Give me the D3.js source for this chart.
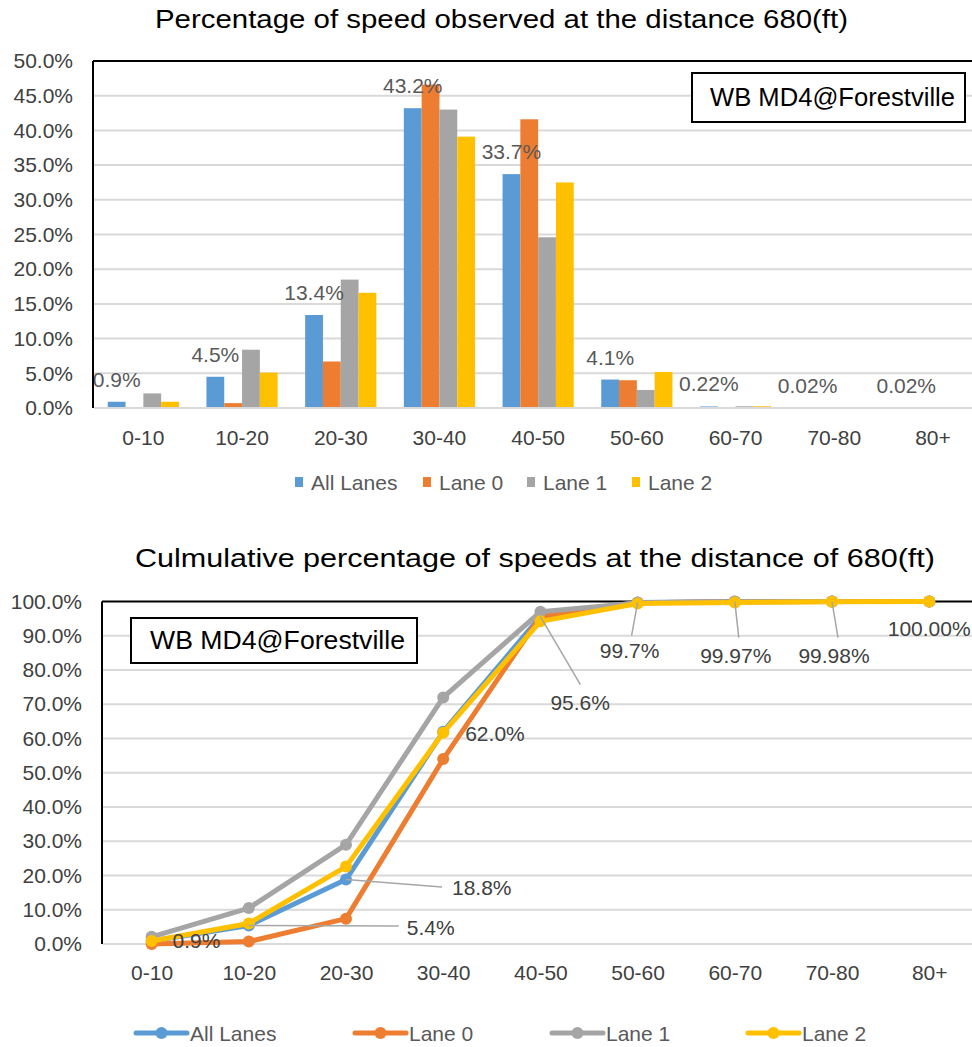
<!DOCTYPE html>
<html>
<head>
<meta charset="utf-8">
<script src="https://cdn.jsdelivr.net/npm/d3@7"></script>
<style>
  html, body { margin: 0; padding: 0; background: #fff; }
  svg { display: block; font-family: "Liberation Sans", Arial, sans-serif; }
</style>
</head>
<body>
<svg id="chart" width="972" height="1047"></svg>
<script>
// ---- data ----
const categories = ["0-10", "10-20", "20-30", "30-40", "40-50", "50-60", "60-70", "70-80", "80+"];
const seriesNames = ["All Lanes", "Lane 0", "Lane 1", "Lane 2"];
const seriesColors = ["#5B9BD5", "#ED7D31", "#A5A5A5", "#FFC000"];

// share of vehicles in each speed bin (%)
const pctAllLanes = [0.9, 4.5, 13.4, 43.2, 33.7, 4.1, 0.22, 0.02, 0.02];
const pctLane0    = [0.0, 0.7, 6.7, 46.6, 41.6, 4.0, 0.1, 0.0, 0.0];
const pctLane1    = [2.1, 8.4, 18.5, 43.0, 24.6, 2.6, 0.25, 0.0, 0.0];
const pctLane2    = [0.9, 5.1, 16.6, 39.1, 32.5, 5.2, 0.25, 0.0, 0.0];
const pctDecimals = [1, 1, 1, 1, 1, 1, 2, 2, 2];

// cumulative share up to each speed bin (%)
const cumAllLanes = [0.9, 5.4, 18.8, 62.0, 95.6, 99.7, 99.97, 99.98, 100.00];
const cumLane0    = [0.0, 0.7, 7.4, 54.0, 95.6, 99.6, 99.9, 100.0, 100.0];
const cumLane1    = [2.1, 10.5, 29.0, 72.0, 97.0, 99.6, 99.9, 100.0, 100.0];
const cumLane2    = [0.9, 6.0, 22.6, 61.7, 94.2, 99.4, 99.7, 99.9, 100.0];
const cumDecimals = [1, 1, 1, 1, 1, 1, 2, 2, 2];

const yTicksTop = [0, 5, 10, 15, 20, 25, 30, 35, 40, 45, 50];
const yTicksBottom = [0, 10, 20, 30, 40, 50, 60, 70, 80, 90, 100];
const siteLabel = "WB MD4@Forestville";

const pctSeries = [pctAllLanes, pctLane0, pctLane1, pctLane2];
const cumSeries = [cumAllLanes, cumLane0, cumLane1, cumLane2];

// ---- shared styling ----
const GRID = "#d9d9d9";
const TICK_TEXT = "#404040";
const LABEL_TEXT = "#595959";
const FS = 21;

const svg = d3.select("#chart");
const fmt = (v, d) => v.toFixed(d) + "%";

// =================== Chart 1: grouped bars ===================
{
  const left = 94, top = 61, bottom = 408, step = 98.7;
  const right = left + step * categories.length;
  const x0 = d3.scaleBand().domain(categories).range([left, right]).padding(0);
  const groupW = 71.2;
  const x1 = d3.scaleBand().domain(seriesNames).range([0, groupW]).padding(0);
  const y = d3.scaleLinear().domain([0, 50]).range([bottom, top]);

  svg.append("text")
    .attr("x", 501.5).attr("y", 28)
    .attr("text-anchor", "middle")
    .attr("font-size", 26)
    .attr("textLength", 693).attr("lengthAdjust", "spacingAndGlyphs")
    .attr("fill", "#000")
    .text("Percentage of speed observed at the distance 680(ft)");

  // gridlines
  svg.append("g").selectAll("line")
    .data(yTicksTop.filter(t => t > 0 && t < 50))
    .join("line")
    .attr("x1", left).attr("x2", right)
    .attr("y1", d => y(d)).attr("y2", d => y(d))
    .attr("stroke", GRID).attr("stroke-width", 2);

  // y axis labels
  const yAxis = d3.axisLeft(y).tickValues(yTicksTop).tickFormat(d => d.toFixed(1) + "%").tickSize(0).tickPadding(0);
  const gy = svg.append("g").attr("transform", "translate(73,0)").call(yAxis);
  gy.select(".domain").remove();
  gy.selectAll("text").attr("font-size", FS).attr("fill", TICK_TEXT).attr("font-family", null);

  // bars
  const groups = svg.append("g").selectAll("g")
    .data(categories)
    .join("g")
    .attr("transform", d => `translate(${x0(d) + (x0.bandwidth() - groupW) / 2},0)`);
  groups.selectAll("rect")
    .data((c, i) => seriesNames.map((s, k) => ({ s, k, v: pctSeries[k][i] })))
    .join("rect")
    .attr("x", d => x1(d.s))
    .attr("width", x1.bandwidth())
    .attr("y", d => y(d.v))
    .attr("height", d => y(0) - y(d.v))
    .attr("fill", d => seriesColors[d.k]);

  // value labels for All Lanes
  svg.append("g").selectAll("text")
    .data(categories)
    .join("text")
    .attr("x", (c) => x0(c) + (x0.bandwidth() - groupW) / 2 + x1("All Lanes") + x1.bandwidth() / 2)
    .attr("y", (c, i) => y(pctAllLanes[i]) - 15)
    .attr("text-anchor", "middle")
    .attr("font-size", FS).attr("fill", LABEL_TEXT)
    .text((c, i) => fmt(pctAllLanes[i], pctDecimals[i]));

  // baseline (category axis)
  svg.append("line").attr("x1", left).attr("x2", right).attr("y1", bottom).attr("y2", bottom)
    .attr("stroke", GRID).attr("stroke-width", 2);
  // plot frame: top and left
  svg.append("line").attr("x1", left - 1).attr("x2", right).attr("y1", top).attr("y2", top)
    .attr("stroke", "#000").attr("stroke-width", 2);
  svg.append("line").attr("x1", left - 1).attr("x2", left - 1).attr("y1", top).attr("y2", bottom)
    .attr("stroke", "#000").attr("stroke-width", 2);

  // x axis labels
  const xAxis = d3.axisBottom(x0).tickSize(0).tickPadding(0);
  const gx = svg.append("g").attr("transform", `translate(0,${bottom})`).call(xAxis);
  gx.select(".domain").remove();
  gx.selectAll("text").attr("font-size", FS).attr("fill", TICK_TEXT).attr("font-family", null)
    .attr("dy", null).attr("y", 37);

  // site text box
  svg.append("rect").attr("x", 692).attr("y", 73).attr("width", 273).attr("height", 49)
    .attr("fill", "#fff").attr("stroke", "#000").attr("stroke-width", 2);
  svg.append("text").attr("x", 710).attr("y", 106)
    .attr("font-size", 25).attr("fill", "#000")
    .attr("textLength", 245).attr("lengthAdjust", "spacingAndGlyphs")
    .text(siteLabel);

  // legend
  const legendX = [295, 423, 527, 632];
  const lg = svg.append("g").selectAll("g").data(seriesNames).join("g")
    .attr("transform", (d, i) => `translate(${legendX[i]},482)`);
  lg.append("rect").attr("x", 0).attr("y", -5).attr("width", 8).attr("height", 10)
    .attr("fill", (d, i) => seriesColors[i]);
  lg.append("text").attr("x", 16).attr("y", 7.5)
    .attr("font-size", FS).attr("fill", LABEL_TEXT).text(d => d);
}

// =================== Chart 2: cumulative lines ===================
{
  const left = 103, top = 601.5, bottom = 944, step = 97.2;
  const right = left + step * categories.length;
  const x = d3.scalePoint().domain(categories).range([left + step / 2, right - step / 2]);
  const y = d3.scaleLinear().domain([0, 100]).range([bottom, top]);

  svg.append("text")
    .attr("x", 535).attr("y", 567)
    .attr("text-anchor", "middle")
    .attr("font-size", 26)
    .attr("textLength", 800).attr("lengthAdjust", "spacingAndGlyphs")
    .attr("fill", "#000")
    .text("Culmulative percentage of speeds at the distance of 680(ft)");

  svg.append("g").selectAll("line")
    .data(yTicksBottom.filter(t => t > 0 && t < 100))
    .join("line")
    .attr("x1", left).attr("x2", right)
    .attr("y1", d => y(d)).attr("y2", d => y(d))
    .attr("stroke", GRID).attr("stroke-width", 2);
  svg.append("line").attr("x1", left).attr("x2", right).attr("y1", bottom).attr("y2", bottom)
    .attr("stroke", GRID).attr("stroke-width", 2);

  const yAxis = d3.axisLeft(y).tickValues(yTicksBottom).tickFormat(d => d.toFixed(1) + "%").tickSize(0).tickPadding(0);
  const gy = svg.append("g").attr("transform", "translate(82,0)").call(yAxis);
  gy.select(".domain").remove();
  gy.selectAll("text").attr("font-size", FS).attr("fill", TICK_TEXT).attr("font-family", null);

  // frame: top and left
  svg.append("line").attr("x1", left - 1).attr("x2", 972).attr("y1", top).attr("y2", top)
    .attr("stroke", "#000").attr("stroke-width", 2);
  svg.append("line").attr("x1", left - 1).attr("x2", left - 1).attr("y1", top).attr("y2", bottom)
    .attr("stroke", "#000").attr("stroke-width", 2);

  const line = d3.line().x((d, i) => x(categories[i])).y(d => y(d));
  cumSeries.forEach((vals, k) => {
    svg.append("path").datum(vals)
      .attr("d", line).attr("fill", "none")
      .attr("stroke", seriesColors[k]).attr("stroke-width", 5)
      .attr("stroke-linejoin", "round");
    svg.append("g").selectAll("circle").data(vals).join("circle")
      .attr("cx", (d, i) => x(categories[i])).attr("cy", d => y(d))
      .attr("r", 6).attr("fill", seriesColors[k]);
  });

  // All Lanes data labels with leader lines (offsets relative to the point)
  const labelPlacement = [
    { dx: 21, dy: 0, anchor: "start" },
    { dx: 158, dy: 2.5, anchor: "start", lx: 150, ly: 0.5 },
    { dx: 106, dy: 8.5, anchor: "start", lx: 96, ly: 7.5 },
    { dx: 22, dy: 1.5, anchor: "start" },
    { dx: 10, dy: 86, anchor: "start", lx: 40, ly: 68 },
    { dx: -8, dy: 48.5, anchor: "middle", lx: -6, ly: 33 },
    { dx: 1, dy: 54, anchor: "middle", lx: 4, ly: 36 },
    { dx: 2, dy: 54, anchor: "middle", lx: 6, ly: 36 },
    { dx: 0, dy: 27, anchor: "middle" }
  ];
  const lbl = svg.append("g");
  cumAllLanes.forEach((v, i) => {
    const px = x(categories[i]), py = y(v), p = labelPlacement[i];
    if (p.lx !== undefined) {
      lbl.append("line").attr("x1", px).attr("y1", py)
        .attr("x2", px + p.lx).attr("y2", py + p.ly)
        .attr("stroke", "#a6a6a6").attr("stroke-width", 1.5);
    }
    lbl.append("text").attr("x", px + p.dx).attr("y", py + p.dy)
      .attr("dy", "0.35em").attr("text-anchor", p.anchor)
      .attr("font-size", FS).attr("fill", TICK_TEXT)
      .text(fmt(v, cumDecimals[i]));
  });

  const xAxis = d3.axisBottom(x).tickSize(0).tickPadding(0);
  const gx = svg.append("g").attr("transform", `translate(0,${bottom})`).call(xAxis);
  gx.select(".domain").remove();
  gx.selectAll("text").attr("font-size", FS).attr("fill", TICK_TEXT).attr("font-family", null)
    .attr("dy", null).attr("y", 36);

  // site text box
  svg.append("rect").attr("x", 131).attr("y", 618).attr("width", 286).attr("height", 45)
    .attr("fill", "#fff").attr("stroke", "#000").attr("stroke-width", 2);
  svg.append("text").attr("x", 150).attr("y", 649)
    .attr("font-size", 25).attr("fill", "#000")
    .attr("textLength", 255).attr("lengthAdjust", "spacingAndGlyphs")
    .text(siteLabel);

  // legend
  const legendX = [136, 355, 552, 748];
  const lg = svg.append("g").selectAll("g").data(seriesNames).join("g")
    .attr("transform", (d, i) => `translate(${legendX[i]},1033)`);
  lg.append("line").attr("x1", 0).attr("x2", 51).attr("y1", 0).attr("y2", 0)
    .attr("stroke", (d, i) => seriesColors[i]).attr("stroke-width", 5).attr("stroke-linecap", "round");
  lg.append("circle").attr("cx", 25.5).attr("cy", 0).attr("r", 6)
    .attr("fill", (d, i) => seriesColors[i]);
  lg.append("text").attr("x", 54).attr("y", 7.5)
    .attr("font-size", FS).attr("fill", LABEL_TEXT).text(d => d);
}
</script>
</body>
</html>
